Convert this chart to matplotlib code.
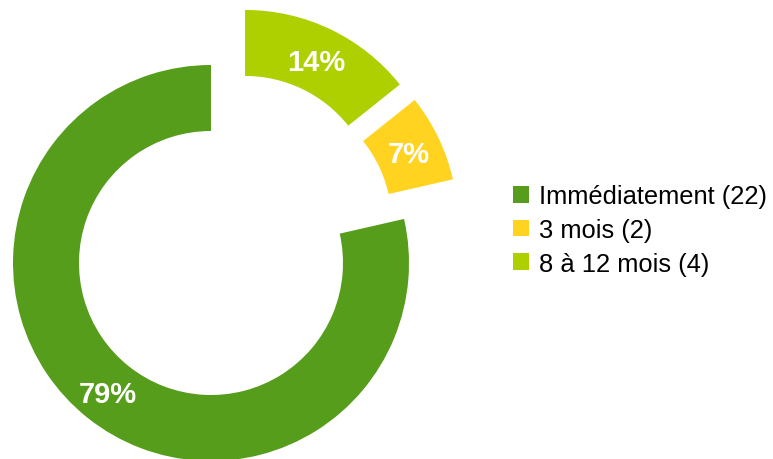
import numpy as np
import matplotlib
matplotlib.use("Agg")
import matplotlib.pyplot as plt

plt.rcParams["font.family"] = ["Liberation Sans", "DejaVu Sans"]

# data
LABELS = ["Immédiatement", "3 mois", "8 à 12 mois"]
VALUES = [22, 2, 4]
COLORS = ["#579D1C", "#FFD320", "#AECF00"]

# pulled-out slices: (dx, dy) in radius units
OFFSETS = [(0.0, 0.0), (0.247, 0.200), (0.172, 0.278)]

W, H = 773, 460
CX, CY, R = 211, 264, 198  # pie centre and radius in pixels

fig = plt.figure(figsize=(W / 100, H / 100), dpi=100)
ax = fig.add_axes([0, 0, 1, 1])

wedges, texts, autotexts = ax.pie(
    VALUES,
    colors=COLORS,
    startangle=90,
    counterclock=True,
    radius=1.0,
    wedgeprops=dict(width=1 / 3, linewidth=0),
    autopct="%.0f%%",
    pctdistance=0.833,
    textprops=dict(color="white", fontsize=21, fontweight="bold"),
)

for w, t, (dx, dy) in zip(wedges, autotexts, OFFSETS):
    w.set_center((dx, dy))
    x, y = t.get_position()
    t.set_position((x + dx, y + dy - 0.012))

ax.set_xlim(-CX / R, (W - CX) / R)
ax.set_ylim((CY - H) / R, CY / R)
ax.set_aspect("auto")
ax.axis("off")

legend_labels = [f"{l} ({v})" for l, v in zip(LABELS, VALUES)]
fig.legend(
    wedges, legend_labels,
    loc="center left",
    bbox_to_anchor=(513 / W, 1 - 231 / H),
    frameon=False,
    fontsize=18.4,
    handlelength=0.63,
    handleheight=0.63,
    handletextpad=0.4,
    labelspacing=0.38,
    borderpad=0,
    borderaxespad=0,
)

fig.savefig("out.png", dpi=100)
